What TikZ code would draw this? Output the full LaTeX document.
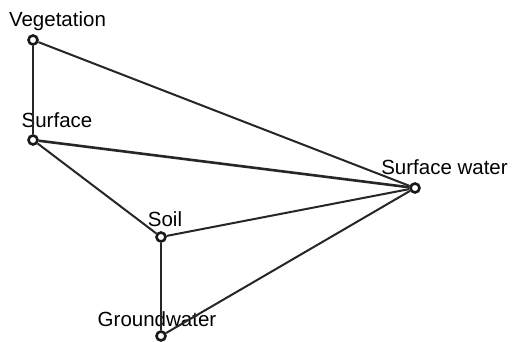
\documentclass[tikz,border=0pt]{standalone}
\usepackage{fontspec}
\setmainfont{Liberation Sans}
\begin{document}
\begin{tikzpicture}[x=1pt,y=-1pt,
  pt/.style={circle,draw=black!90,line width=2.6pt,minimum size=9pt,inner sep=0pt},
  lbl/.style={anchor=base,inner sep=0pt,font=\fontsize{20.5}{24}\selectfont},
  edge/.style={draw=black!85,line width=2pt}]
\useasboundingbox (0,0) rectangle (512,342);
\node[pt] (veg) at (33,40) {};
\node[pt] (sur) at (33,140) {};
\node[pt] (soil) at (161,237) {};
\node[pt] (gw) at (161,336) {};
\node[pt] (sw) at (415,188) {};
\node[lbl] (lveg) at (57.5,27) {Vegetation};
\node[lbl] (lsur) at (57,128) {Surface};
\node[lbl] (lsoil) at (165,227) {Soil};
\node[lbl] (lgw) at (157,326) {Groundwater};
\node[lbl] (lsw) at (444.5,175) {Surface water};
\draw[edge] (veg) -- (sur);
\draw[edge] (veg) -- (sw);
\draw[edge,line width=2.6pt] (sur) -- (sw);
\draw[edge] (sur) -- (soil);
\draw[edge] (soil) -- (sw);
\draw[edge] (soil) -- (gw);
\draw[edge] (gw) -- (sw);
\end{tikzpicture}
\end{document}
